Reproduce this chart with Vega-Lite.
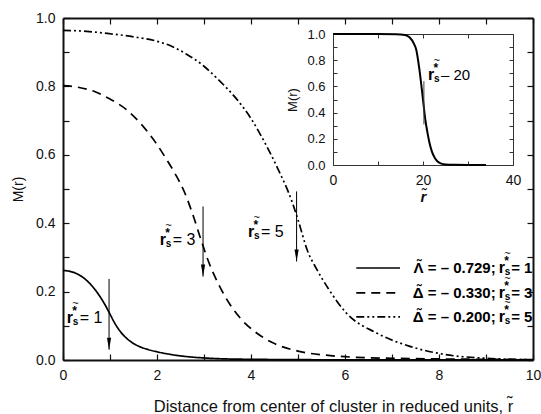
{
  "$schema": "https://vega.github.io/schema/vega-lite/v6.json",
  "width": 470,
  "height": 342,
  "autosize": {"type": "none"},
  "padding": {"left": 63, "top": 18, "right": 8, "bottom": 54},
  "background": "white",
  "config": {
    "view": {"stroke": null},
    "font": "Liberation Sans",
    "text": {"font": "Liberation Sans", "color": "black"},
    "axis": {
      "labelFont": "Liberation Sans", "titleFont": "Liberation Sans",
      "labelColor": "black", "titleColor": "black", "domainColor": "black", "tickColor": "black",
      "titleFontWeight": "normal", "grid": false, "labelOverlap": false, "labelFlush": false
    }
  },
  "datasets": {
    "curves": [
      {"series": "s1", "x": 0, "y": 0.262}, {"series": "s1", "x": 0.25, "y": 0.255}, {"series": "s1", "x": 0.5, "y": 0.233},
      {"series": "s1", "x": 0.75, "y": 0.193}, {"series": "s1", "x": 0.9, "y": 0.16}, {"series": "s1", "x": 1.0, "y": 0.134},
      {"series": "s1", "x": 1.1, "y": 0.108}, {"series": "s1", "x": 1.25, "y": 0.078}, {"series": "s1", "x": 1.4, "y": 0.058},
      {"series": "s1", "x": 1.6, "y": 0.041}, {"series": "s1", "x": 1.8, "y": 0.031}, {"series": "s1", "x": 2.0, "y": 0.024},
      {"series": "s1", "x": 2.3, "y": 0.016}, {"series": "s1", "x": 2.7, "y": 0.009}, {"series": "s1", "x": 3.0, "y": 0.006},
      {"series": "s1", "x": 3.5, "y": 0.003}, {"series": "s1", "x": 4, "y": 0.002}, {"series": "s1", "x": 5, "y": 0.001},
      {"series": "s1", "x": 6, "y": 0.0005}, {"series": "s1", "x": 8, "y": 0.0002}, {"series": "s1", "x": 10, "y": 0.0001},
      {"series": "s3", "x": 0, "y": 0.802}, {"series": "s3", "x": 0.3, "y": 0.798}, {"series": "s3", "x": 0.67, "y": 0.785},
      {"series": "s3", "x": 1.0, "y": 0.763}, {"series": "s3", "x": 1.35, "y": 0.732}, {"series": "s3", "x": 1.7, "y": 0.684},
      {"series": "s3", "x": 1.95, "y": 0.64}, {"series": "s3", "x": 2.16, "y": 0.596}, {"series": "s3", "x": 2.38, "y": 0.546},
      {"series": "s3", "x": 2.59, "y": 0.489}, {"series": "s3", "x": 2.75, "y": 0.43}, {"series": "s3", "x": 2.94, "y": 0.35},
      {"series": "s3", "x": 3.09, "y": 0.29}, {"series": "s3", "x": 3.33, "y": 0.216}, {"series": "s3", "x": 3.55, "y": 0.163},
      {"series": "s3", "x": 3.8, "y": 0.118}, {"series": "s3", "x": 4.12, "y": 0.079}, {"series": "s3", "x": 4.5, "y": 0.048},
      {"series": "s3", "x": 5.0, "y": 0.026}, {"series": "s3", "x": 5.6, "y": 0.014}, {"series": "s3", "x": 6.2, "y": 0.008},
      {"series": "s3", "x": 7, "y": 0.005}, {"series": "s3", "x": 8, "y": 0.003}, {"series": "s3", "x": 9, "y": 0.002},
      {"series": "s3", "x": 10, "y": 0.001},
      {"series": "s5", "x": 0, "y": 0.964}, {"series": "s5", "x": 0.5, "y": 0.961}, {"series": "s5", "x": 1.0, "y": 0.954},
      {"series": "s5", "x": 1.5, "y": 0.945}, {"series": "s5", "x": 2.0, "y": 0.932}, {"series": "s5", "x": 2.3, "y": 0.918},
      {"series": "s5", "x": 2.63, "y": 0.894}, {"series": "s5", "x": 3.0, "y": 0.859}, {"series": "s5", "x": 3.26, "y": 0.826},
      {"series": "s5", "x": 3.45, "y": 0.8}, {"series": "s5", "x": 3.7, "y": 0.762}, {"series": "s5", "x": 4.0, "y": 0.706},
      {"series": "s5", "x": 4.33, "y": 0.626}, {"series": "s5", "x": 4.61, "y": 0.548}, {"series": "s5", "x": 4.86, "y": 0.468},
      {"series": "s5", "x": 5.0, "y": 0.41}, {"series": "s5", "x": 5.2, "y": 0.32}, {"series": "s5", "x": 5.4, "y": 0.265},
      {"series": "s5", "x": 5.64, "y": 0.21}, {"series": "s5", "x": 6.03, "y": 0.137}, {"series": "s5", "x": 6.67, "y": 0.079},
      {"series": "s5", "x": 7.38, "y": 0.04}, {"series": "s5", "x": 8.09, "y": 0.017}, {"series": "s5", "x": 9.0, "y": 0.005},
      {"series": "s5", "x": 10, "y": 0.001}
    ],
    "inset": [
      {"x": 0, "y": 1}, {"x": 10, "y": 1}, {"x": 14, "y": 0.999}, {"x": 16, "y": 0.993}, {"x": 17, "y": 0.975},
      {"x": 18, "y": 0.925}, {"x": 18.5, "y": 0.88}, {"x": 19.2, "y": 0.73}, {"x": 19.9, "y": 0.53}, {"x": 20.5, "y": 0.35},
      {"x": 21, "y": 0.245}, {"x": 21.4, "y": 0.175}, {"x": 22, "y": 0.1}, {"x": 22.6, "y": 0.056}, {"x": 23.3, "y": 0.025},
      {"x": 24.1, "y": 0.01}, {"x": 25, "y": 0.004}, {"x": 27, "y": 0.001}, {"x": 30, "y": 0}, {"x": 34, "y": 0}
    ],
    "arrows": [
      {"x": 0.98, "y": 0.237, "y2": 0.03},
      {"x": 2.98, "y": 0.449, "y2": 0.244},
      {"x": 4.97, "y": 0.493, "y2": 0.288}
    ],
    "rlabels": [
      {"grp": "ann", "x": 0.08, "y": 0.108, "eq": "= 1"},
      {"grp": "ann", "x": 2.057, "y": 0.337, "eq": "= 3"},
      {"grp": "ann", "x": 3.936, "y": 0.361, "eq": "= 5"},
      {"grp": "leg", "x": 9.27, "y": 0.254, "eq": "= 1", "lab": "Λ̃ = – 0.729;"},
      {"grp": "leg", "x": 9.27, "y": 0.181, "eq": "= 3", "lab": "Δ̃ = – 0.330;"},
      {"grp": "leg", "x": 9.27, "y": 0.110, "eq": "= 5", "lab": "Δ̃ = – 0.200;"}
    ],
    "legend": [
      {"series": "s1", "y": 0.269}, {"series": "s3", "y": 0.196}, {"series": "s5", "y": 0.126}
    ],
    "insetlabel": [
      {"x": 21.1, "y": 0.65, "eq": "– 20"}
    ],
    "insetrule": [
      {"x": 20.2, "y": 0.64, "y2": 0.31}
    ]
  },
  "resolve": {"scale": {"x": "independent", "y": "independent"}},
  "layer": [
    {
      "layer": [
        {
          "data": {"name": "curves"},
          "mark": {"type": "line", "interpolate": "monotone", "color": "black", "strokeWidth": 1.7},
          "encoding": {
            "x": {"field": "x", "type": "quantitative",
              "scale": {"domain": [0, 10], "nice": false, "zero": false},
              "axis": {"orient": "bottom", "values": [0, 1, 2, 3, 4, 5, 6, 7, 8, 9, 10], "format": "d",
                "labelExpr": "datum.value % 2 == 0 ? datum.label : ''",
                "tickSize": -6, "labelPadding": 14, "labelFontSize": 14, "labelColor": "#111",
                "domainWidth": 2, "domainColor": "#111", "tickWidth": 1.2, "tickColor": "#111",
                "title": "Distance from center of cluster in reduced units, r̃", "titleFontSize": 16.5, "titleColor": "#111",
                "titleX": 270, "titleY": 46, "titleBaseline": "middle"}},
            "y": {"field": "y", "type": "quantitative",
              "scale": {"domain": [0, 1], "nice": false, "zero": false},
              "axis": {"orient": "left", "values": [0, 0.1, 0.2, 0.3, 0.4, 0.5, 0.6, 0.7, 0.8, 0.9, 1],
                "labelExpr": "round(datum.value*10) % 2 == 0 ? format(datum.value, '.1f') : ''",
                "tickSize": -6, "labelPadding": 14, "labelFontSize": 14, "labelColor": "#111",
                "domainWidth": 2, "domainColor": "#111", "tickWidth": 1.2, "tickColor": "#111",
                "title": "M(r)", "titleFontSize": 14, "titleColor": "#111", "titleX": -45, "titleY": 171, "titleBaseline": "middle"}},
            "strokeDash": {"field": "series", "type": "nominal",
              "scale": {"domain": ["s1", "s3", "s5"], "range": [[1, 0], [9, 6], [8, 3, 2, 3, 2, 3]]}, "legend": null}
          }
        },
        {
          "data": {"name": "curves"},
          "mark": {"type": "point", "opacity": 0},
          "encoding": {
            "x": {"field": "x", "type": "quantitative",
              "axis": {"orient": "top", "values": [0, 1, 2, 3, 4, 5, 6, 7, 8, 9, 10], "labels": false,
                "tickSize": -6, "domainWidth": 2, "domainColor": "#111", "tickWidth": 1.2, "tickColor": "#111", "title": null}},
            "y": {"field": "y", "type": "quantitative",
              "axis": {"orient": "right", "values": [0, 0.1, 0.2, 0.3, 0.4, 0.5, 0.6, 0.7, 0.8, 0.9, 1], "labels": false,
                "tickSize": -6, "domainWidth": 2, "domainColor": "#111", "tickWidth": 1.2, "tickColor": "#111", "title": null}}
          }
        },
        {
          "data": {"name": "arrows"},
          "mark": {"type": "rule", "color": "black", "strokeWidth": 1},
          "encoding": {
            "x": {"field": "x", "type": "quantitative", "axis": null},
            "y": {"field": "y", "type": "quantitative", "axis": null},
            "y2": {"field": "y2"}
          }
        },
        {
          "data": {"name": "arrows"},
          "mark": {"type": "point", "shape": "M0,0L-0.35,-2L0.35,-2Z", "filled": true, "color": "black", "opacity": 1, "size": 144},
          "encoding": {
            "x": {"field": "x", "type": "quantitative", "axis": null},
            "y": {"field": "y2", "type": "quantitative", "axis": null}
          }
        },
        {
          "data": {"name": "legend"},
          "mark": {"type": "rule", "color": "black", "strokeWidth": 1.7},
          "encoding": {
            "x": {"datum": 6.24, "type": "quantitative", "axis": null},
            "x2": {"datum": 7.17},
            "y": {"field": "y", "type": "quantitative", "axis": null},
            "strokeDash": {"field": "series", "type": "nominal", "legend": null}
          }
        },
        {
          "data": {"name": "rlabels"},
          "transform": [{"filter": "datum.grp == 'leg'"}],
          "mark": {"type": "text", "align": "right", "baseline": "alphabetic", "fontWeight": "bold", "fontSize": 15, "dx": -3},
          "encoding": {
            "x": {"field": "x", "type": "quantitative", "axis": null},
            "y": {"field": "y", "type": "quantitative", "axis": null},
            "text": {"field": "lab"}
          }
        },
        {
          "data": {"name": "rlabels"},
          "mark": {"type": "text", "align": "left", "baseline": "alphabetic", "fontWeight": "bold", "fontSize": 16},
          "encoding": {
            "x": {"field": "x", "type": "quantitative", "axis": null},
            "y": {"field": "y", "type": "quantitative", "axis": null},
            "text": {"value": "r"}
          }
        },
        {
          "data": {"name": "rlabels"},
          "mark": {"type": "text", "align": "left", "baseline": "alphabetic", "fontWeight": "bold", "fontSize": 10, "dx": 6, "dy": 2},
          "encoding": {
            "x": {"field": "x", "type": "quantitative", "axis": null},
            "y": {"field": "y", "type": "quantitative", "axis": null},
            "text": {"value": "s"}
          }
        },
        {
          "data": {"name": "rlabels"},
          "mark": {"type": "text", "align": "left", "baseline": "alphabetic", "fontWeight": "bold", "fontSize": 12, "dx": 5.5, "dy": -8},
          "encoding": {
            "x": {"field": "x", "type": "quantitative", "axis": null},
            "y": {"field": "y", "type": "quantitative", "axis": null},
            "text": {"value": "*"}
          }
        },
        {
          "data": {"name": "rlabels"},
          "mark": {"type": "text", "align": "left", "baseline": "alphabetic", "fontSize": 11, "dx": 5.5, "dy": -16},
          "encoding": {
            "x": {"field": "x", "type": "quantitative", "axis": null},
            "y": {"field": "y", "type": "quantitative", "axis": null},
            "text": {"value": "~"}
          }
        },
        {
          "data": {"name": "rlabels"},
          "transform": [{"filter": "datum.grp == 'ann'"}],
          "mark": {"type": "text", "align": "left", "baseline": "alphabetic", "fontSize": 16, "dx": 13},
          "encoding": {
            "x": {"field": "x", "type": "quantitative", "axis": null},
            "y": {"field": "y", "type": "quantitative", "axis": null},
            "text": {"field": "eq"}
          }
        },
        {
          "data": {"name": "rlabels"},
          "transform": [{"filter": "datum.grp == 'leg'"}],
          "mark": {"type": "text", "align": "left", "baseline": "alphabetic", "fontSize": 15, "fontWeight": "bold", "dx": 12.5},
          "encoding": {
            "x": {"field": "x", "type": "quantitative", "axis": null},
            "y": {"field": "y", "type": "quantitative", "axis": null},
            "text": {"field": "eq"}
          }
        }
      ]
    },
    {
      "layer": [
        {
          "data": {"name": "inset"},
          "mark": {"type": "line", "interpolate": "monotone", "color": "black", "strokeWidth": 2},
          "encoding": {
            "x": {"field": "x", "type": "quantitative",
              "scale": {"domain": [0, 40], "range": [270, 450], "nice": false, "zero": false},
              "axis": {"orient": "bottom", "offset": -195, "values": [0, 10, 20, 30, 40], "format": "d",
                "labelExpr": "datum.value % 20 == 0 ? datum.label : ''",
                "tickSize": -4, "labelPadding": 12, "labelFontSize": 14, "labelColor": "#111", "domainColor": "#333", "domainWidth": 1, "tickColor": "#333",
                "title": "r̃", "titleFontSize": 15, "titleFontWeight": "bold", "titleFontStyle": "italic", "titleColor": "#111", "titlePadding": 2}},
            "y": {"field": "y", "type": "quantitative",
              "scale": {"domain": [0, 1], "range": [147, 16], "nice": false, "zero": false},
              "axis": {"orient": "left", "offset": -270, "values": [0, 0.1, 0.2, 0.3, 0.4, 0.5, 0.6, 0.7, 0.8, 0.9, 1],
                "labelExpr": "round(datum.value*10) % 2 == 0 ? format(datum.value, '.1f') : ''",
                "tickSize": -4, "labelPadding": 12, "labelFontSize": 13, "labelColor": "#111", "domainColor": "#333", "domainWidth": 1, "tickColor": "#333",
                "title": "M(r)", "titleFontSize": 13, "titleColor": "#111", "titlePadding": 7}}
          }
        },
        {
          "data": {"name": "inset"},
          "mark": {"type": "point", "opacity": 0},
          "encoding": {
            "x": {"field": "x", "type": "quantitative",
              "axis": {"orient": "top", "offset": -16, "values": [0, 10, 20, 30, 40], "labels": false,
                "tickSize": -4, "domainColor": "#333", "domainWidth": 1, "tickColor": "#333", "title": null}},
            "y": {"field": "y", "type": "quantitative",
              "axis": {"orient": "right", "offset": -20, "values": [0, 0.1, 0.2, 0.3, 0.4, 0.5, 0.6, 0.7, 0.8, 0.9, 1], "labels": false,
                "tickSize": -4, "domainColor": "#333", "domainWidth": 1, "tickColor": "#333", "title": null}}
          }
        },
        {
          "data": {"name": "insetrule"},
          "mark": {"type": "rule", "color": "#444", "strokeWidth": 1},
          "encoding": {
            "x": {"field": "x", "type": "quantitative", "axis": null},
            "y": {"field": "y", "type": "quantitative", "axis": null},
            "y2": {"field": "y2"}
          }
        },
        {
          "data": {"name": "insetlabel"},
          "mark": {"type": "text", "align": "left", "baseline": "alphabetic", "fontWeight": "bold", "fontSize": 16},
          "encoding": {
            "x": {"field": "x", "type": "quantitative", "axis": null},
            "y": {"field": "y", "type": "quantitative", "axis": null},
            "text": {"value": "r"}
          }
        },
        {
          "data": {"name": "insetlabel"},
          "mark": {"type": "text", "align": "left", "baseline": "alphabetic", "fontWeight": "bold", "fontSize": 10, "dx": 6, "dy": 2},
          "encoding": {
            "x": {"field": "x", "type": "quantitative", "axis": null},
            "y": {"field": "y", "type": "quantitative", "axis": null},
            "text": {"value": "s"}
          }
        },
        {
          "data": {"name": "insetlabel"},
          "mark": {"type": "text", "align": "left", "baseline": "alphabetic", "fontWeight": "bold", "fontSize": 12, "dx": 5.5, "dy": -8},
          "encoding": {
            "x": {"field": "x", "type": "quantitative", "axis": null},
            "y": {"field": "y", "type": "quantitative", "axis": null},
            "text": {"value": "*"}
          }
        },
        {
          "data": {"name": "insetlabel"},
          "mark": {"type": "text", "align": "left", "baseline": "alphabetic", "fontSize": 11, "dx": 5.5, "dy": -16},
          "encoding": {
            "x": {"field": "x", "type": "quantitative", "axis": null},
            "y": {"field": "y", "type": "quantitative", "axis": null},
            "text": {"value": "~"}
          }
        },
        {
          "data": {"name": "insetlabel"},
          "mark": {"type": "text", "align": "left", "baseline": "alphabetic", "fontSize": 15, "dx": 13},
          "encoding": {
            "x": {"field": "x", "type": "quantitative", "axis": null},
            "y": {"field": "y", "type": "quantitative", "axis": null},
            "text": {"field": "eq"}
          }
        }
      ]
    }
  ]
}
